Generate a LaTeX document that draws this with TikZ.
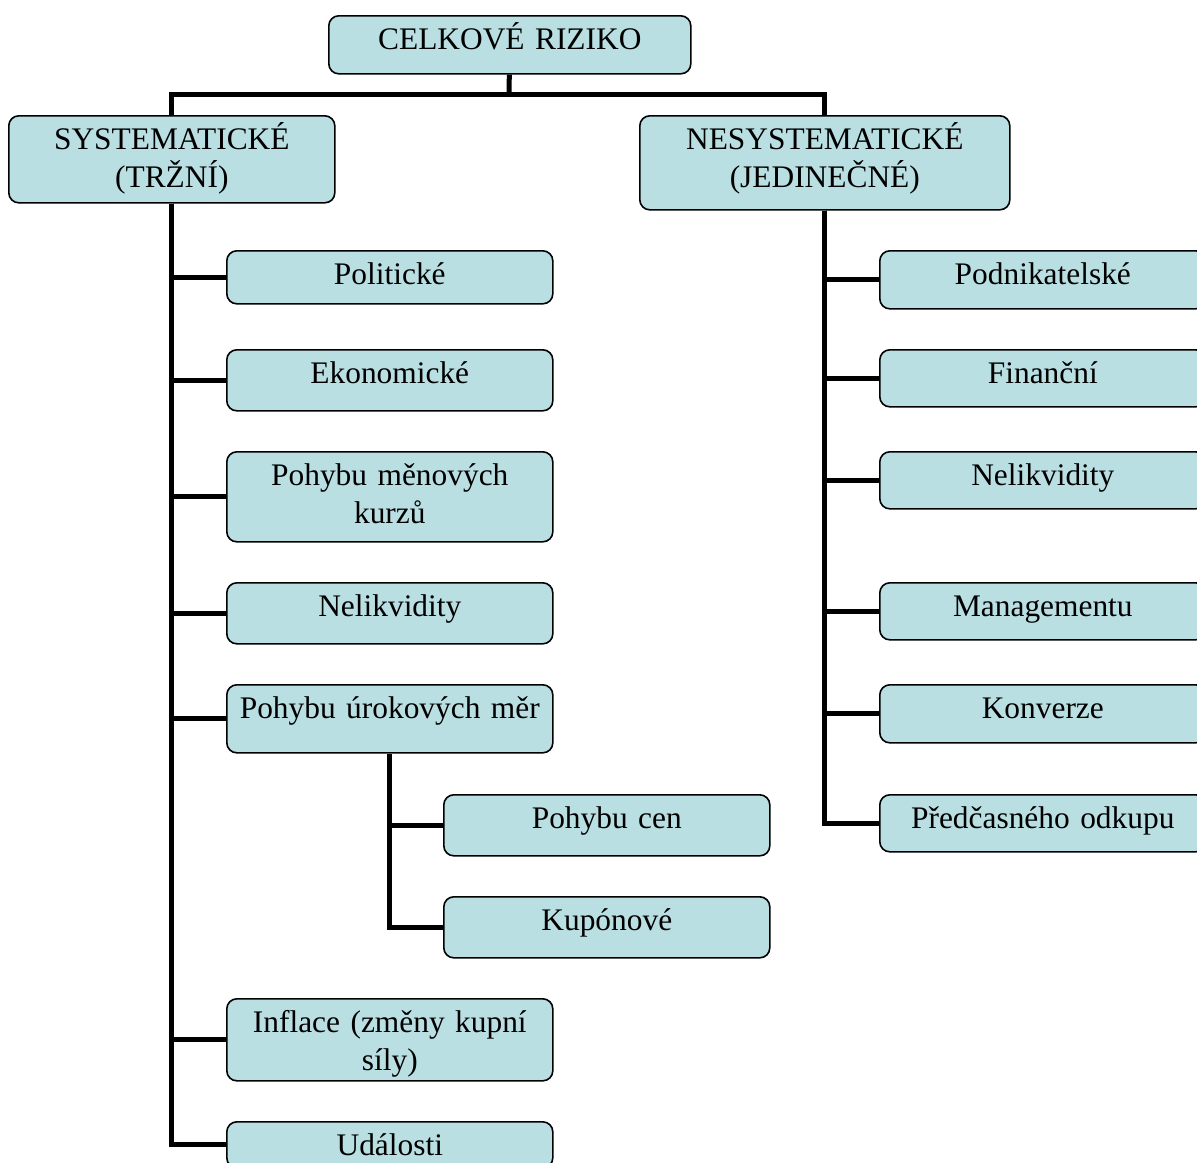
\documentclass[tikz,border=0pt]{standalone}
\usepackage{fontspec}
\setmainfont{Liberation Serif}
\usepackage{tikz}
\usetikzlibrary{positioning}
\definecolor{boxcyan}{RGB}{185,223,227}

\begin{document}
\begin{tikzpicture}
[x=0.5pt,y=-0.5pt,font=\fontsize{15.7}{19}\selectfont]
\tikzstyle{plain}=[draw,fill=boxcyan,rounded corners=5pt,line width=0.8pt,anchor=north west,align=center,inner xsep=2pt,inner ysep=0pt,text width=159pt,text height=17pt]
\tikzstyle{link}=[line width=2.5pt]

\useasboundingbox (0,0) rectangle (1197,1162);
\clip (0,0) rectangle (1197,1162);

\draw node [plain,text width=177pt,text depth=12pt] (celk) at (328,15) {CELKOVÉ RIZIKO};
\draw node [plain,text depth=26.5pt] (sys) at (8,115) {SYSTEMATICKÉ\\(TRŽNÍ)};
\draw node [plain,text width=181pt,text depth=30pt] (nesys) at (639,115) {NESYSTEMATICKÉ\\(JEDINEČNÉ)};
\coordinate (split) at (509,94);

% systematicke
\draw node [plain,text depth=9.5pt] (polit) at (226,250) {Politické};
\draw node [plain,text depth=13.5pt] (ekon) at (226,349) {Ekonomické};
\draw node [plain,text depth=28pt] (mena) at (226,451) {Pohybu měnových\\kurzů};
\draw node [plain,text depth=13.5pt] (nelik) at (226,582) {Nelikvidity};
\draw node [plain,text depth=17pt] (urok) at (226,684) {Pohybu úrokových měr};
\draw node [plain,text depth=13.5pt] (ceny) at (443,794) {Pohybu cen};
\draw node [plain,text depth=13.5pt] (kupon) at (443,896) {Kupónové};
\draw node [plain,text depth=24pt] (infl) at (226,998) {Inflace (změny kupní\\síly)};
\draw node [plain,text depth=6pt] (udal) at (226,1121) {Události};

% nesystematicke
\draw node [plain,text depth=12pt] (podn) at (879,250) {Podnikatelské};
\draw node [plain,text depth=11.5pt] (fin) at (879,349) {Finanční};
\draw node [plain,text depth=11.5pt] (nelik2) at (879,451) {Nelikvidity};
\draw node [plain,text depth=11.5pt] (manag) at (879,582) {Managementu};
\draw node [plain,text depth=12pt] (konv) at (879,684) {Konverze};
\draw node [plain,text depth=11.5pt] (odkup) at (879,794) {Předčasného odkupu};

\draw [link] (celk) -- (split);
\draw [link] (sys.north) |- (split) -| (nesys.north);

\draw [link] (sys.south) |- (polit.west);
\draw [link] (sys.south) |- (ekon.west);
\draw [link] (sys.south) |- (mena.west);
\draw [link] (sys.south) |- (nelik.west);
\draw [link] (sys.south) |- (urok.west);
\draw [link] (sys.south) |- (infl.west);
\draw [link] (sys.south) |- (udal.west);
\draw [link] (urok.south) |- (ceny.west);
\draw [link] (urok.south) |- (kupon.west);

\draw [link] (nesys.south) |- (podn.west);
\draw [link] (nesys.south) |- (fin.west);
\draw [link] (nesys.south) |- (nelik2.west);
\draw [link] (nesys.south) |- (manag.west);
\draw [link] (nesys.south) |- (konv.west);
\draw [link] (nesys.south) |- (odkup.west);

\end{tikzpicture}
\end{document}
